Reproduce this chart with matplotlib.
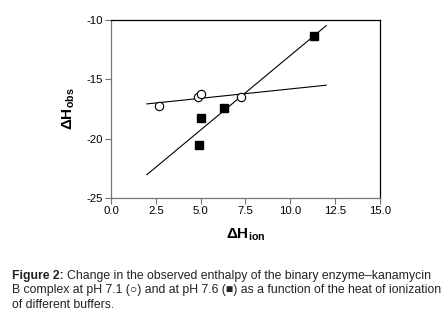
import numpy as np
import matplotlib
matplotlib.use("Agg")
import matplotlib.pyplot as plt

plt.rcParams['font.family'] = ['Liberation Sans', 'DejaVu Sans']
plt.rcParams['mathtext.fontset'] = 'custom'
plt.rcParams['mathtext.rm'] = 'Liberation Sans'
plt.rcParams['mathtext.bf'] = 'Liberation Sans:bold'
plt.rcParams['mathtext.it'] = 'Liberation Sans:italic'

# pH 7.1 (open circles)
h_ion_71 = [2.66, 4.85, 5.04, 7.27]
h_obs_71 = [-17.22, -16.5, -16.2, -16.5]
# pH 7.6 (filled squares)
h_ion_76 = [4.89, 5.04, 6.30, 11.34]
h_obs_76 = [-20.5, -18.28, -17.41, -11.38]
fit_range = [2.0, 12.0]

xticks = [0.0, 2.5, 5.0, 7.5, 10.0, 12.5, 15.0]
yticks = [-25, -20, -15, -10]

caption_bold = "Figure 2:"
caption_lines = ["Change in the observed enthalpy of the binary enzyme\u2013kanamycin",
                 "B complex at pH 7.1 (\u25cb) and at pH 7.6 (\u25a0) as a function of the heat of ionization",
                 "of different buffers."]

fig = plt.figure(figsize=(4.47, 3.19), dpi=100)
ax = fig.add_axes([0.2483, 0.3793, 0.6017, 0.558])

xf = np.linspace(fit_range[0], fit_range[1], 50)
for xs, ys in [(h_ion_71, h_obs_71), (h_ion_76, h_obs_76)]:
    p = np.polyfit(xs, ys, 1)
    ax.plot(xf, np.polyval(p, xf), color='black', lw=0.8, zorder=2)

ax.plot(h_ion_71, h_obs_71, 'o', mfc='white', mec='black', ms=6, mew=0.8, zorder=3)
ax.plot(h_ion_76, h_obs_76, 's', mfc='black', mec='black', ms=6, zorder=3)

ax.set_xlim(0, 15)
ax.set_ylim(-25, -10)
ax.set_xticks(xticks)
ax.set_xticklabels([f'{t:.1f}' for t in xticks])
ax.set_yticks(yticks)
ax.set_yticklabels([f'{t:d}' for t in yticks])
ax.tick_params(direction='out', length=4, width=0.8, color='#777777', labelsize=8.2, pad=1.5)
for s in ['left', 'bottom']:
    ax.spines[s].set_color('#777777')
for s in ['top', 'right']:
    ax.spines[s].set_color('black')
for s in ax.spines.values():
    s.set_linewidth(0.9)

ax.set_xlabel(r'$\mathbf{\Delta H_{ion}}$', fontsize=11, labelpad=8)
ax.set_ylabel(r'$\mathbf{\Delta H_{obs}}$', fontsize=11, labelpad=7)

fs = 8.8
t1 = fig.text(0.027, 0.125, caption_bold, fontsize=fs, fontweight='bold', color='#222222')
fig.canvas.draw()
bb = t1.get_window_extent()
x2 = bb.x1 / fig.bbox.width
fig.text(x2 + 0.008, 0.125, caption_lines[0], fontsize=fs, color='#222222')
fig.text(0.027, 0.080, caption_lines[1], fontsize=fs, color='#222222')
fig.text(0.027, 0.035, caption_lines[2], fontsize=fs, color='#222222')

fig.savefig('out.png', dpi=100)
